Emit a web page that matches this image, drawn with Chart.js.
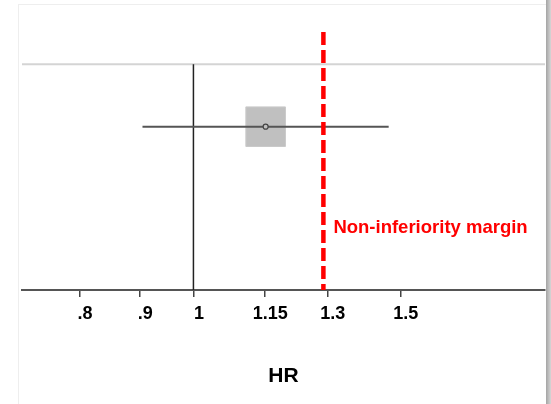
<!DOCTYPE html>
<html>
<head>
<meta charset="utf-8">
<script src="https://cdn.jsdelivr.net/npm/chart.js@4"></script>
<style>
  body { margin: 0; background: #fff; }
  #panel { position: absolute; left: 18px; top: 4px; width: 527px; height: 400px;
           border-left: 1px solid #eeeeee; border-top: 1px solid #eeeeee; background: #fff; }
  #edge { position: absolute; left: 546px; top: 0; width: 5px; height: 404px;
          background: linear-gradient(to right, #a4a4a4, #d6d6d6); }
  #wrap { position: absolute; left: 0; top: 0; width: 551px; height: 404px; }
</style>
</head>
<body>
<div id="panel"></div>
<div id="edge"></div>
<div id="wrap"><canvas id="myChart" width="551" height="404"></canvas></div>
<script>
// forest plot: one study, log-scaled hazard ratio axis
var tickValues = [0.8, 0.9, 1, 1.15, 1.3, 1.5];
var tickLabels = ['.8', '.9', '1', '1.15', '1.3', '1.5'];
var hrPoint = [1.152];
var ciLower = [0.905];
var ciUpper = [1.466];
var marginValue = [1.29];
var axisRange = [0.7147, 1.9914];

var rowY = 0.633;   // where the study row sits (0..1)
var topLineY = 0.875;
var font = "'Liberation Sans', Arial, sans-serif";

var marginLabel = {
    id: 'marginLabel',
    afterDatasetsDraw: function(chart) {
        var ctx = chart.ctx;
        var x = chart.scales.x.getPixelForValue(marginValue[0]) + 10;
        var y = chart.scales.y.getPixelForValue(0.24);
        ctx.save();
        ctx.font = 'bold 18.5px ' + font;
        ctx.fillStyle = '#ff0000';
        ctx.textBaseline = 'middle';
        ctx.fillText('Non-inferiority margin', x, y);
        ctx.restore();
    }
};

var ctx = document.getElementById('myChart').getContext('2d');
var myChart = new Chart(ctx, {
    type: 'scatter',
    data: {
        datasets: [{
            // dashed margin line
            data: [{x: marginValue[0], y: 1}, {x: marginValue[0], y: 0}],
            showLine: true,
            borderColor: '#ff0000',
            borderWidth: 4.5,
            borderDash: [13, 5],
            pointRadius: 0,
            order: 0
        },
        {
            // point estimate dot
            data: hrPoint.map(function(v) { return {x: v, y: rowY}; }),
            pointRadius: 2.5,
            pointBackgroundColor: '#c0c0c0',
            pointBorderColor: '#444444',
            pointBorderWidth: 1.2,
            order: 1
        },
        {
            // confidence interval
            data: [{x: ciLower[0], y: rowY}, {x: ciUpper[0], y: rowY}],
            showLine: true,
            borderColor: '#555555',
            borderWidth: 2,
            pointRadius: 0,
            order: 2
        },
        {
            // weight box
            data: hrPoint.map(function(v) { return {x: v, y: rowY}; }),
            pointStyle: 'rect',
            pointRadius: 28,
            pointBackgroundColor: '#c0c0c0',
            pointBorderColor: '#cacaca',
            pointBorderWidth: 1,
            order: 3
        },
        {
            // line of no effect
            data: [{x: 1, y: 0}, {x: 1, y: topLineY}],
            showLine: true,
            borderColor: '#222222',
            borderWidth: 1.5,
            pointRadius: 0,
            order: 4
        },
        {
            data: [{x: axisRange[0], y: topLineY}, {x: axisRange[1], y: topLineY}],
            showLine: true,
            borderColor: '#d4d4d4',
            borderWidth: 2,
            pointRadius: 0,
            order: 5
        }]
    },
    options: {
        responsive: false,
        animation: false,
        devicePixelRatio: 1,
        layout: { autoPadding: false, padding: { left: 22, right: 6, top: 32, bottom: 0 } },
        plugins: {
            legend: { display: false },
            tooltip: { enabled: false }
        },
        scales: {
            x: {
                type: 'logarithmic',
                bounds: 'data',
                min: axisRange[0],
                max: axisRange[1],
                afterBuildTicks: function(scale) {
                    scale.ticks = tickValues.map(function(v) { return {value: v}; });
                },
                afterFit: function(scale) {
                    scale.height = 114;
                    scale.paddingLeft = 0;
                    scale.paddingRight = 0;
                },
                ticks: {
                    autoSkip: false,
                    maxRotation: 0,
                    padding: 6,
                    labelOffset: 5.5,
                    color: '#000',
                    font: { family: font, size: 18, weight: 'bold' },
                    callback: function(value, index) { return tickLabels[index]; }
                },
                grid: {
                    drawOnChartArea: false,
                    drawTicks: true,
                    tickLength: 7,
                    color: '#444444',
                    lineWidth: 1.5
                },
                border: { display: true, color: '#555555', width: 2 },
                title: {
                    display: true,
                    text: 'HR',
                    color: '#000',
                    font: { family: font, size: 21, weight: 'bold' },
                    padding: { top: 0, bottom: 15 }
                }
            },
            y: {
                display: false,
                min: 0,
                max: 1
            }
        }
    },
    plugins: [marginLabel]
});
</script>
</body>
</html>
